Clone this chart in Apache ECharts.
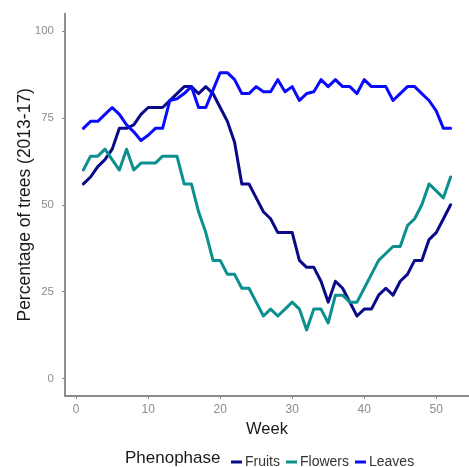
<!DOCTYPE html>
<html>
<head>
<meta charset="utf-8">
<script src="https://cdn.jsdelivr.net/npm/echarts@6/dist/echarts.min.js"></script>
<style>
  html, body { margin: 0; padding: 0; background: #fff; }
  #chart { width: 469px; height: 467px; }
</style>
</head>
<body>
<div id="chart"></div>
<script>
// Weekly share of trees in each phenophase, averaged over 2013-17
const weeks = [1,2,3,4,5,6,7,8,9,10,11,12,13,14,15,16,17,18,19,20,21,22,23,24,25,26,
               27,28,29,30,31,32,33,34,35,36,37,38,39,40,41,42,43,44,45,46,47,48,49,50,51,52];

const fruits = [56,58,61,63,66,72,72,73,76,78,78,78,80,82,84,84,82,84,82,78,74,68,56,56,52,48,
                46,42,42,42,34,32,32,28,22,28,26,22,18,20,20,24,26,24,28,30,34,34,40,42,46,50];

const flowers = [60,64,64,66,63,60,66,60,62,62,62,64,64,64,56,56,48,42,34,34,30,30,26,26,22,18,
                 20,18,20,22,20,14,20,20,16,24,24,22,22,26,30,34,36,38,38,44,46,50,56,54,52,58];

const leaves = [72,74,74,76,78,76,73,71,68.5,70,72,72,80,80.5,82,84,78,78,83,88,88,86,82,82,84,82.5,
                82.5,86,82.5,84,80,82,82.5,86,84,86,84,84,82,86,84,84,84,80,82,84,84,82,80,77,72,72];

const xTicks = [0, 10, 20, 30, 40, 50];
const yTicks = [0, 25, 50, 75, 100];

const seriesNames = ['Fruits', 'Flowers', 'Leaves'];
const seriesColors = ['#0a0a88', '#0b8f8f', '#0a0aff'];
const seriesValues = [fruits, flowers, leaves];

const chart = echarts.init(document.getElementById('chart'), null, { renderer: 'canvas' });

const pairs = vals => weeks.map((w, i) => [w, vals[i]]);

chart.setOption({
  animation: false,
  backgroundColor: '#ffffff',
  textStyle: { fontFamily: 'Liberation Sans, Arial, sans-serif' },
  grid: { left: 65, right: -6, top: 13.6, bottom: 71, containLabel: false },
  xAxis: {
    type: 'value',
    min: -1.55,
    max: 54.55,
    name: 'Week',
    nameLocation: 'middle',
    nameGap: 24,
    nameTextStyle: { color: '#1a1a1a', fontSize: 16.5 },
    axisLine: { show: true, onZero: false, lineStyle: { color: '#8a8a8a', width: 2 } },
    axisTick: { show: true, customValues: xTicks, length: 3, lineStyle: { color: '#8a8a8a' } },
    axisLabel: { customValues: xTicks, color: '#8c8c8c', fontSize: 12, margin: 8 },
    splitLine: { show: false }
  },
  yAxis: {
    type: 'value',
    min: -5,
    max: 105,
    name: 'Percentage of trees (2013-17)',
    nameLocation: 'middle',
    nameMoveOverlap: false,
    nameGap: 31,
    nameTextStyle: { color: '#1a1a1a', fontSize: 17.5 },
    axisLine: { show: true, onZero: false, lineStyle: { color: '#6a6a6a', width: 1.5 } },
    axisTick: { show: true, customValues: yTicks, length: 3, lineStyle: { color: '#8a8a8a' } },
    axisLabel: { customValues: yTicks, color: '#8c8c8c', fontSize: 11.5, margin: 11 },
    splitLine: { show: false }
  },
  legend: {
    data: seriesNames,
    left: 226,
    top: 450,
    icon: 'rect',
    itemWidth: 11,
    itemHeight: 3,
    itemGap: 6,
    textStyle: { color: '#333', fontSize: 14, padding: [0, 0, 0, -2] }
  },
  graphic: [{
    type: 'text',
    left: 125,
    top: 450,
    style: { text: 'Phenophase', fill: '#1a1a1a', fontSize: 17, fontFamily: 'Liberation Sans, Arial, sans-serif' }
  }],
  series: seriesNames.map((name, i) => ({
    name,
    type: 'line',
    data: pairs(seriesValues[i]),
    showSymbol: false,
    symbol: 'none',
    color: seriesColors[i],
    lineStyle: { width: 3, color: seriesColors[i], join: 'round', cap: 'round' },
    z: 2 + i
  }))
});
</script>
</body>
</html>
